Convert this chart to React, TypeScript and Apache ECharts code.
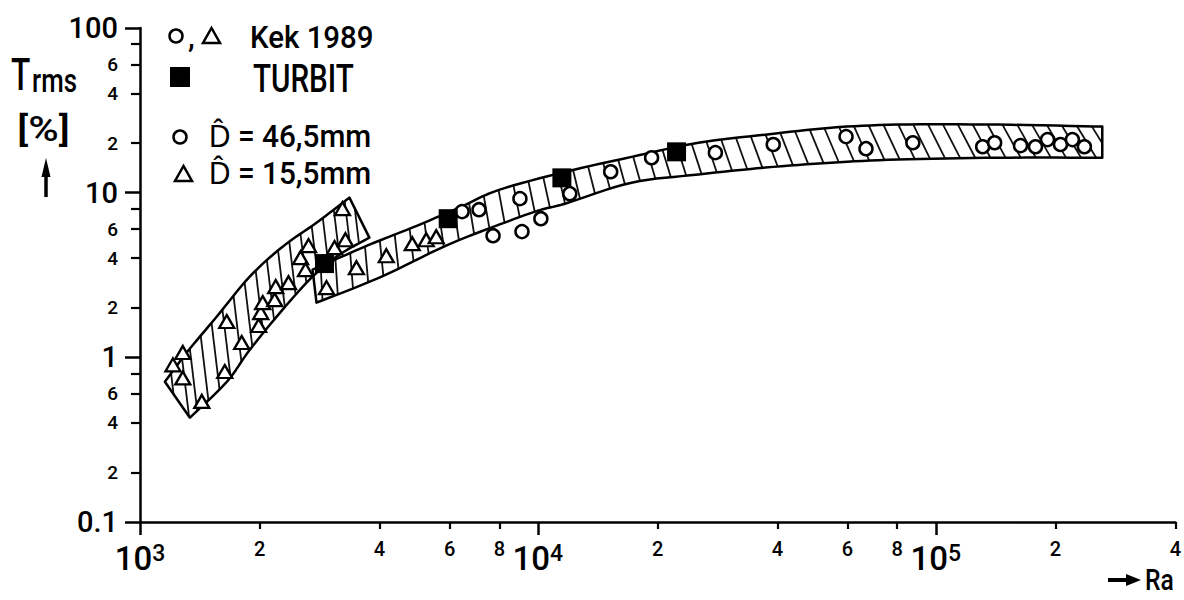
import React, { useEffect, useRef } from "react";
import * as echarts from "echarts";

const FONT = "Roboto, 'Liberation Sans', 'DejaVu Sans', sans-serif";

// ---- data (Ra, T_rms in %) ----
const circleRa = [6449, 7114, 7714, 9013, 9120, 10174, 12028, 15240, 19310, 27930, 39040, 59500, 66770, 87580, 131200, 140600, 163300, 178100, 190900, 205800, 220500, 236300];
const circleT = [7.67, 7.88, 5.48, 9.2, 5.8, 6.95, 9.86, 13.4, 16.3, 17.5, 19.6, 21.9, 18.5, 20.1, 19.0, 20.1, 19.3, 19.0, 21.0, 19.6, 21.0, 19.0];

const triRa = [1210, 1281, 1281, 1430, 1633, 1652, 1801, 1987, 2011, 2034, 2180, 2193, 2362, 2532, 2606, 2652, 2943, 3082, 3283, 3227, 3499, 4159, 4833, 5240, 5552];
const triT = [0.9, 1.07, 0.75, 0.54, 0.82, 1.65, 1.23, 1.56, 1.87, 2.15, 2.24, 2.69, 2.84, 4.03, 3.41, 4.77, 2.65, 4.64, 5.18, 8.0, 3.5, 4.14, 4.9, 5.18, 5.4];

const turbitRa = [2909, 5951, 11490, 22310];
const turbitT = [3.71, 6.95, 12.3, 17.7];

// hatched scatter bands
const smallBandUpperRa = [1155, 1311, 1560, 1887, 2283, 2777, 3360];
const smallBandUpperT = [0.71, 1.07, 1.77, 3.09, 4.7, 6.57, 9.33];
const smallBandLowerRa = [1335, 1652, 1887, 2283, 2715, 3170, 3771];
const smallBandLowerT = [0.43, 0.71, 1.11, 1.95, 3.09, 4.2, 5.33];

const largeBandUpperRa = [2715, 3771, 4833, 6339, 7986, 11750, 17200, 25320, 37270, 54560, 80300, 143000, 262100];
const largeBandUpperT = [3.41, 4.83, 6.13, 8.11, 10.4, 13.4, 16.5, 20.1, 22.5, 24.8, 25.9, 25.9, 25.2];
const largeBandLowerRa = [2777, 3996, 5883, 7986, 10000, 11750, 17200, 25320, 37270, 54560, 80300, 143000, 262100];
const largeBandLowerT = [2.15, 3.05, 4.77, 6.39, 7.77, 8.6, 11.5, 12.9, 14.2, 15.2, 15.9, 16.3, 16.3];

// ---- ticks ----
const xMajorTicks = [1000, 10000, 100000];
const xMinorTicks = [2000, 4000, 6000, 8000, 20000, 40000, 60000, 80000, 200000, 400000];
const yMajorTicks = [0.1, 1, 10, 100];
const yMinorTicks = [0.2, 0.4, 0.6, 0.8, 2, 4, 6, 8, 20, 40, 60, 80];
const yMinorLabels = [0.2, 0.4, 0.6, 2, 4, 6, 20, 40, 60];

function leading(v: number): string {
  const e = Math.floor(Math.log10(v) + 1e-9);
  return String(Math.round(v / Math.pow(10, e)));
}
function zip(a: number[], b: number[]) {
  return a.map((x, i) => [x, b[i]]);
}
// Catmull-Rom smoothing of pixel polylines (rendering only)
function smoothPts(P: number[][], n = 8): number[][] {
  if (P.length < 3) return P;
  const out: number[][] = [];
  for (let i = 0; i < P.length - 1; i++) {
    const p0 = P[Math.max(0, i - 1)];
    const p1 = P[i];
    const p2 = P[i + 1];
    const p3 = P[Math.min(P.length - 1, i + 2)];
    for (let k = 0; k < n; k++) {
      const t = k / n;
      const t2 = t * t;
      const t3 = t2 * t;
      out.push([0, 1].map(
        (j) =>
          0.5 *
          (2 * p1[j] +
            (-p0[j] + p2[j]) * t +
            (2 * p0[j] - 5 * p1[j] + 4 * p2[j] - p3[j]) * t2 +
            (-p0[j] + 3 * p1[j] - 3 * p2[j] + p3[j]) * t3)
      ));
    }
  }
  out.push(P[P.length - 1]);
  return out;
}
function yOn(P: number[][], x: number): number | null {
  for (let i = 0; i < P.length - 1; i++) {
    const [x1, y1] = P[i];
    const [x2, y2] = P[i + 1];
    if (x >= Math.min(x1, x2) && x <= Math.max(x1, x2) && x2 !== x1) {
      return y1 + ((y2 - y1) * (x - x1)) / (x2 - x1);
    }
  }
  return null;
}
function inside(poly: number[][], x: number, y: number) {
  let c = false;
  for (let i = 0, j = poly.length - 1; i < poly.length; j = i++) {
    const [xi, yi] = poly[i];
    const [xj, yj] = poly[j];
    if (yi > y !== yj > y && x < ((xj - xi) * (y - yi)) / (yj - yi) + xi) c = !c;
  }
  return c;
}
function hatchSeg(poly: number[][], p: number[], d: number[]) {
  let tNeg = -Infinity;
  let tPos = Infinity;
  for (let i = 0; i < poly.length; i++) {
    const a = poly[i];
    const b = poly[(i + 1) % poly.length];
    const ex = b[0] - a[0];
    const ey = b[1] - a[1];
    const den = d[0] * ey - d[1] * ex;
    if (Math.abs(den) < 1e-9) continue;
    const wx = a[0] - p[0];
    const wy = a[1] - p[1];
    const t = (wx * ey - wy * ex) / den;
    const s = (wx * d[1] - wy * d[0]) / den;
    if (s < 0 || s > 1) continue;
    if (t < 0 && t > tNeg) tNeg = t;
    if (t >= 0 && t < tPos) tPos = t;
  }
  if (!isFinite(tNeg) || !isFinite(tPos)) return null;
  return [p[0] + tNeg * d[0], p[1] + tNeg * d[1], p[0] + tPos * d[0], p[1] + tPos * d[1]];
}

function makeBand(
  name: string,
  upperRa: number[], upperT: number[], lowerRa: number[], lowerT: number[],
  spacing: number, leanA: number, leanB: number
) {
  return {
    name,
    type: "custom",
    coordinateSystem: "cartesian2d",
    xAxisIndex: 0,
    yAxisIndex: 0,
    silent: true,
    clip: false,
    z: 1,
    data: [[upperRa[0], upperT[0]]],
    renderItem: (params: any, api: any) => {
      const U = smoothPts(upperRa.map((r, i) => api.coord([r, upperT[i]])));
      const L = smoothPts(lowerRa.map((r, i) => api.coord([r, lowerT[i]])));
      const poly = U.concat(L.slice().reverse());
      const xs = poly.map((p: number[]) => p[0]);
      const xmin = Math.min(...xs);
      const xmax = Math.max(...xs);
      const children: any[] = [];
      for (let x = xmin + spacing * 0.6; x < xmax; x += spacing) {
        const yu = yOn(U, x);
        const yl = yOn(L, x);
        let ay: number;
        if (yu != null && yl != null) ay = (yu + yl) / 2;
        else if (yu != null) ay = yu + 4;
        else if (yl != null) ay = yl - 4;
        else continue;
        if (!inside(poly, x, ay)) continue;
        const t = (x - xmin) / (xmax - xmin);
        const lean = leanA + (leanB - leanA) * t;
        const seg = hatchSeg(poly, [x, ay], [lean, 1]);
        if (!seg) continue;
        children.push({
          type: "line",
          shape: { x1: seg[0], y1: seg[1], x2: seg[2], y2: seg[3] },
          style: { stroke: "#111", lineWidth: 1.8 },
        });
      }
      children.push({
        type: "polygon",
        shape: { points: poly },
        style: { fill: "none", stroke: "#000", lineWidth: 2.5, lineJoin: "round" },
      });
      return { type: "group", children };
    },
  };
}

function txt(text: string, x: number, y: number, size: number, scaleX = 1) {
  return {
    type: "text",
    x,
    y,
    scaleX,
    style: {
      text,
      font: `500 ${size}px ${FONT}`,
      fill: "#000",
      verticalAlign: "middle",
      textVerticalAlign: "middle",
    },
  };
}

export default function App() {
  const ref = useRef<HTMLDivElement>(null);
  useEffect(() => {
    if (!ref.current) return;
    const chart = echarts.init(ref.current, undefined, { renderer: "svg" });
    const axisLineStyle = { color: "#000", width: 2.5 };
    const option: any = {
      animation: false,
      backgroundColor: "#fff",
      textStyle: { fontFamily: FONT, color: "#000", fontWeight: 500 },
      grid: { left: 140, right: 5, top: 28, bottom: 78, containLabel: false },
      xAxis: [
        {
          type: "log",
          logBase: 10,
          min: 1000,
          max: 400000,
          position: "bottom",
          axisLine: { show: true, lineStyle: axisLineStyle },
          axisTick: { show: true, length: 13, lineStyle: { color: "#000", width: 2.5 }, customValues: xMajorTicks },
          axisLabel: {
            customValues: xMajorTicks,
            margin: 20,
            formatter: (v: number) => `{b|10}{s|${Math.round(Math.log10(v))}}`,
            rich: {
              b: { fontSize: 33, fontFamily: FONT, fontWeight: 500, color: "#000" },
              s: { fontSize: 23, fontFamily: FONT, fontWeight: 500, color: "#000", verticalAlign: "top" },
            },
          },
          splitLine: { show: false },
        },
        {
          type: "log",
          logBase: 10,
          min: 1000,
          max: 400000,
          position: "bottom",
          axisLine: { show: false },
          axisTick: { show: true, length: 7, lineStyle: { color: "#000", width: 2.2 }, customValues: xMinorTicks },
          axisLabel: {
            customValues: xMinorTicks,
            margin: 17,
            fontSize: 20,
            fontFamily: FONT,
            fontWeight: 500,
            color: "#000",
            formatter: (v: number) => leading(v),
          },
          splitLine: { show: false },
        },
      ],
      yAxis: [
        {
          type: "log",
          logBase: 10,
          min: 0.1,
          max: 100,
          position: "left",
          axisLine: { show: true, lineStyle: axisLineStyle },
          axisTick: { show: true, length: 15, lineStyle: { color: "#000", width: 2.5 }, customValues: yMajorTicks },
          axisLabel: {
            customValues: yMajorTicks,
            margin: 22,
            fontSize: 29,
            fontFamily: FONT,
            fontWeight: 500,
            color: "#000",
            formatter: (v: number) => {
              const e = Math.round(Math.log10(v));
              return e < 0 ? "0.1" : String(Math.pow(10, e));
            },
          },
          splitLine: { show: false },
        },
        {
          type: "log",
          logBase: 10,
          min: 0.1,
          max: 100,
          position: "left",
          axisLine: { show: false },
          axisTick: { show: true, length: 9, lineStyle: { color: "#000", width: 2.2 }, customValues: yMinorTicks },
          axisLabel: {
            customValues: yMinorLabels,
            margin: 22,
            fontSize: 19,
            fontFamily: FONT,
            fontWeight: 500,
            color: "#000",
            formatter: (v: number) => leading(v),
          },
          splitLine: { show: false },
        },
      ],
      series: [
        makeBand("band D=15,5mm", smallBandUpperRa, smallBandUpperT, smallBandLowerRa, smallBandLowerT, 11, 0.12, 0.12),
        makeBand("band D=46,5mm", largeBandUpperRa, largeBandUpperT, largeBandLowerRa, largeBandLowerT, 15, 0.05, 0.62),
        {
          name: "D = 15,5mm",
          type: "scatter",
          xAxisIndex: 0,
          yAxisIndex: 0,
          data: zip(triRa, triT),
          symbol: "triangle",
          symbolSize: [15, 13],
          itemStyle: { color: "#fff", borderColor: "#000", borderWidth: 2.3, opacity: 1 },
          silent: true,
          z: 3,
        },
        {
          name: "D = 46,5mm",
          type: "scatter",
          xAxisIndex: 0,
          yAxisIndex: 0,
          data: zip(circleRa, circleT),
          symbol: "circle",
          symbolSize: 13,
          itemStyle: { color: "#fff", borderColor: "#000", borderWidth: 2.5, opacity: 1 },
          silent: true,
          z: 4,
        },
        {
          name: "TURBIT",
          type: "scatter",
          xAxisIndex: 0,
          yAxisIndex: 0,
          data: zip(turbitRa, turbitT),
          symbol: "rect",
          symbolSize: 19,
          itemStyle: { color: "#000", opacity: 1 },
          silent: true,
          z: 5,
        },
      ],
      graphic: [
        // y-axis title
        txt("T", 11, 75, 44, 0.72),
        txt("rms", 32, 80, 34, 0.76),
        txt("[%]", 17, 128, 36, 1.15),
        { type: "line", shape: { x1: 46, y1: 197, x2: 46, y2: 174 }, style: { stroke: "#000", lineWidth: 3.5 } },
        { type: "polygon", shape: { points: [[41.5, 177], [50.5, 177], [46, 158]] }, style: { fill: "#000" } },
        // x-axis title
        { type: "line", shape: { x1: 1108, y1: 580, x2: 1128, y2: 580 }, style: { stroke: "#000", lineWidth: 4 } },
        { type: "polygon", shape: { points: [[1126, 574], [1126, 586], [1141, 580]] }, style: { fill: "#000" } },
        txt("Ra", 1145, 580, 29, 0.85),
        // legend
        { type: "circle", shape: { cx: 176, cy: 36, r: 6.5 }, style: { fill: "#fff", stroke: "#000", lineWidth: 2.5 } },
        txt(",", 188, 36, 30),
        { type: "polygon", shape: { points: [[203, 43], [220, 43], [211.5, 28]] }, style: { fill: "#fff", stroke: "#000", lineWidth: 2.5 } },
        txt("Kek 1989", 250, 37, 32, 0.92),
        { type: "rect", shape: { x: 170, y: 67, width: 20, height: 20 }, style: { fill: "#000" } },
        txt("TURBIT", 253, 79, 38, 0.78),
        { type: "circle", shape: { cx: 180, cy: 137, r: 6.5 }, style: { fill: "#fff", stroke: "#000", lineWidth: 2.5 } },
        txt("D\u0302 = 46,5mm", 209, 136, 32, 0.93),
        { type: "polygon", shape: { points: [[175, 181], [192, 181], [183.5, 166]] }, style: { fill: "#fff", stroke: "#000", lineWidth: 2.5 } },
        txt("D\u0302 = 15,5mm", 209, 173, 32, 0.93),
      ],
    };
    chart.setOption(option);
    return () => chart.dispose();
  }, []);
  return (
    <div
      ref={ref}
      style={{ position: "absolute", left: 0, top: 0, width: 1184, height: 600, background: "#fff" }}
    />
  );
}
